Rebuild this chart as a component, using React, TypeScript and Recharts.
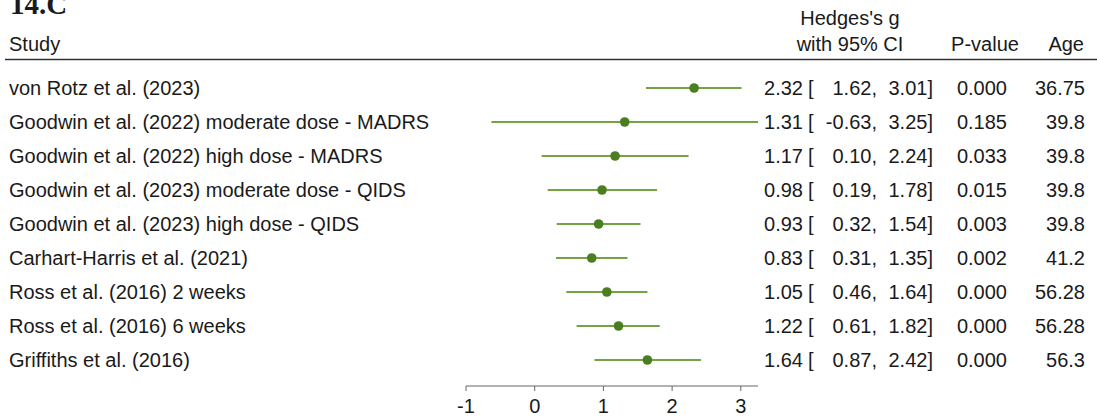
import React from 'react';
import { ScatterChart, Scatter, XAxis, YAxis, ErrorBar, Customized } from 'recharts';

const studies = [
  'von Rotz et al. (2023)',
  'Goodwin et al. (2022) moderate dose - MADRS',
  'Goodwin et al. (2022) high dose - MADRS',
  'Goodwin et al. (2023) moderate dose - QIDS',
  'Goodwin et al. (2023) high dose - QIDS',
  'Carhart-Harris et al. (2021)',
  'Ross et al. (2016) 2 weeks',
  'Ross et al. (2016) 6 weeks',
  'Griffiths et al. (2016)',
];
const hedgesG = [2.32, 1.31, 1.17, 0.98, 0.93, 0.83, 1.05, 1.22, 1.64];
const ciLow = [1.62, -0.63, 0.1, 0.19, 0.32, 0.31, 0.46, 0.61, 0.87];
const ciHigh = [3.01, 3.25, 2.24, 1.78, 1.54, 1.35, 1.64, 1.82, 2.42];
const pValues = ['0.000', '0.185', '0.033', '0.015', '0.003', '0.002', '0.000', '0.000', '0.000'];
const ages = ['36.75', '39.8', '39.8', '39.8', '39.8', '41.2', '56.28', '56.28', '56.3'];
const xTicks = [-1, 0, 1, 2, 3];

const data = studies.map((name, i) => ({
  row: i,
  g: hedgesG[i],
  err: [hedgesG[i] - ciLow[i], ciHigh[i] - hedgesG[i]],
}));
const rowTicks = studies.map((_, i) => i);

const FONT = '"Liberation Sans", Arial, Helvetica, sans-serif';
const TEXT = '#1a1a1a';
const FS = 20;
const LINE_GREEN = '#74a343';
const DOT_GREEN = '#4b7d21';

const fmt = (v: number) => v.toFixed(2);

const StudyTick = (props: any) => {
  const { y, payload } = props;
  return (
    <text x={9} y={y} dy="0.35em" fontSize={FS} fontFamily={FONT} fill={TEXT} textAnchor="start">
      {studies[payload.value]}
    </text>
  );
};

const StatsTick = (props: any) => {
  const { y, payload } = props;
  const i = payload.value;
  const common = { y, dy: '0.35em', fontSize: FS, fontFamily: FONT, fill: TEXT };
  return (
    <g>
      <text {...common} x={803} textAnchor="end">{fmt(hedgesG[i])}</text>
      <text {...common} x={808} textAnchor="start">[</text>
      <text {...common} x={877} textAnchor="end">{fmt(ciLow[i])},</text>
      <text {...common} x={933} textAnchor="end">{fmt(ciHigh[i])}]</text>
      <text {...common} x={1007} textAnchor="end">{pValues[i]}</text>
      <text {...common} x={1085} textAnchor="end">{ages[i]}</text>
    </g>
  );
};

const Header = () => (
  <g fontFamily={FONT} fontSize={FS} fill={TEXT}>
    <text x={10} y={14} fontFamily='"Liberation Serif", "Times New Roman", serif' fontWeight="bold" fontSize={29}>
      14.C
    </text>
    <text x={9} y={44} dy="0.35em">Study</text>
    <text x={850} y={18} dy="0.35em" textAnchor="middle">Hedges's g</text>
    <text x={850} y={44} dy="0.35em" textAnchor="middle">with 95% CI</text>
    <text x={985} y={44} dy="0.35em" textAnchor="middle">P-value</text>
    <text x={1084} y={44} dy="0.35em" textAnchor="end">Age</text>
    <line x1={5} x2={1097} y1={59.5} y2={59.5} stroke="#333" strokeWidth={1.6} />
  </g>
);

const Dot = (props: any) => <circle cx={props.cx} cy={props.cy} r={4.8} fill={DOT_GREEN} />;

export default function App() {
  return (
    <div style={{ position: 'absolute', left: 0, top: 0, background: '#fff' }}>
      <ScatterChart width={1097} height={419} margin={{ top: 54, right: 0, bottom: 0, left: 0 }}>
        <XAxis
          type="number"
          dataKey="g"
          domain={[-1, 3.25]}
          ticks={xTicks}
          allowDataOverflow
          height={33}
          stroke="#666"
          tickSize={5}
          tickMargin={8}
          tick={{ fill: TEXT, fontSize: FS, fontFamily: FONT }}
        />
        <YAxis
          yAxisId="left"
          type="number"
          dataKey="row"
          domain={[-1, 8.765]}
          reversed
          allowDataOverflow
          ticks={rowTicks}
          interval={0}
          width={466}
          axisLine={false}
          tickLine={false}
          tick={<StudyTick />}
        />
        <YAxis
          yAxisId="right"
          orientation="right"
          type="number"
          domain={[-1, 8.765]}
          reversed
          allowDataOverflow
          ticks={rowTicks}
          interval={0}
          width={339}
          axisLine={false}
          tickLine={false}
          tick={<StatsTick />}
        />
        <Scatter data={data} yAxisId="left" shape={<Dot />} isAnimationActive={false}>
          <ErrorBar dataKey="err" direction="x" width={0} stroke={LINE_GREEN} strokeWidth={2} isAnimationActive={false} />
        </Scatter>
        <Customized component={<Header />} />
      </ScatterChart>
    </div>
  );
}
